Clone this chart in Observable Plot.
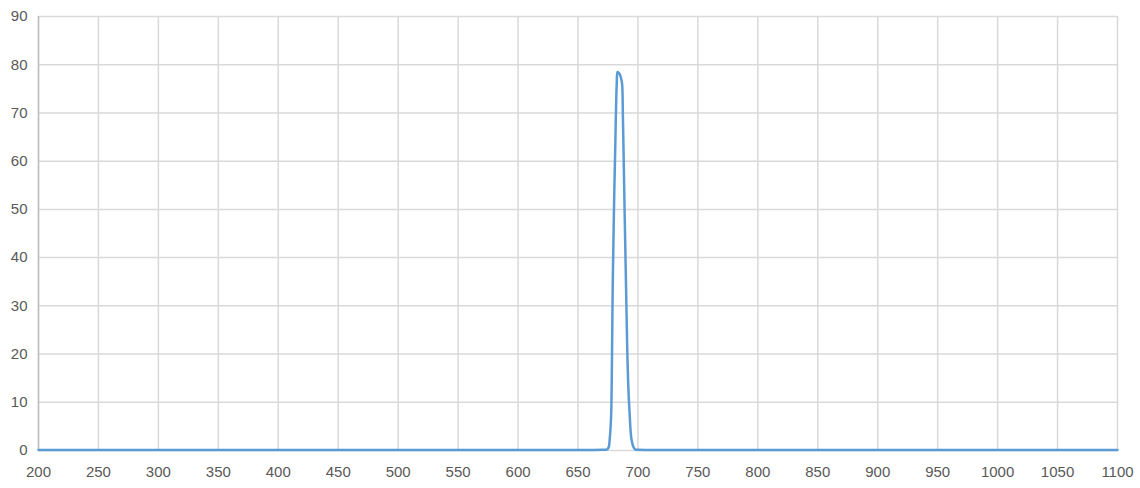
<!DOCTYPE html>
<html><head><meta charset="utf-8">
<script src="https://cdn.jsdelivr.net/npm/d3@7"></script>
<script src="https://cdn.jsdelivr.net/npm/@observablehq/plot@0.6"></script>
<style>body{margin:0;background:#fff}</style>
</head><body><div id="chart"></div>
<script>
const wavelengths = [200, 300, 400, 500, 600, 650, 670, 674, 675.5, 676.5, 677.6, 678.3, 679, 680, 681, 682.3, 683, 684, 684.8, 685.8, 686.8, 687.4, 688, 689, 690, 691, 692, 693.2, 694.5, 696.5, 698, 700, 750, 800, 900, 1000, 1100];
const transmission = [0.1, 0.1, 0.1, 0.1, 0.1, 0.1, 0.15, 0.2, 0.6, 2.5, 7, 18, 35, 50, 62, 76, 78.5, 78.3, 78, 77.3, 76, 70, 62, 48, 35, 22, 13, 7, 2.5, 0.6, 0.2, 0.15, 0.1, 0.1, 0.1, 0.1, 0.1];
const xTicks = d3.range(200, 1101, 50);
const yTicks = d3.range(0, 91, 10);

const data = wavelengths.map((w, i) => ({w, t: transmission[i]}));
const grid = "#d9d9d9";
const chart = Plot.plot({
  width: 1140, height: 488,
  marginLeft: 38, marginRight: 23, marginTop: 16, marginBottom: 38,
  style: {fontFamily: "Liberation Sans, Arial, sans-serif", fontSize: "15px", color: "#595959", background: "#fff"},
  x: {domain: [200, 1100], ticks: xTicks, tickSize: 0, tickPadding: 16, label: null, tickFormat: d => String(d)},
  y: {domain: [0, 90], ticks: yTicks, tickSize: 0, tickPadding: 11, label: null},
  marks: [
    Plot.ruleX(xTicks, {stroke: grid, strokeWidth: 1.5}),
    Plot.ruleY(yTicks, {stroke: grid, strokeWidth: 1.5}),
    Plot.ruleX([200], {stroke: "#bfbfbf", strokeWidth: 1.5}),
    Plot.axisX({ticks: xTicks, tickSize: 0, tickPadding: 16, tickFormat: d => String(d)}),
    Plot.axisY({ticks: yTicks, tickSize: 0, tickPadding: 11}),
    Plot.line(data, {x: "w", y: "t", stroke: "#5b9bd5", strokeWidth: 2.5, curve: "catmull-rom"})
  ]
});
document.getElementById("chart").appendChild(chart);
</script>
</body></html>
